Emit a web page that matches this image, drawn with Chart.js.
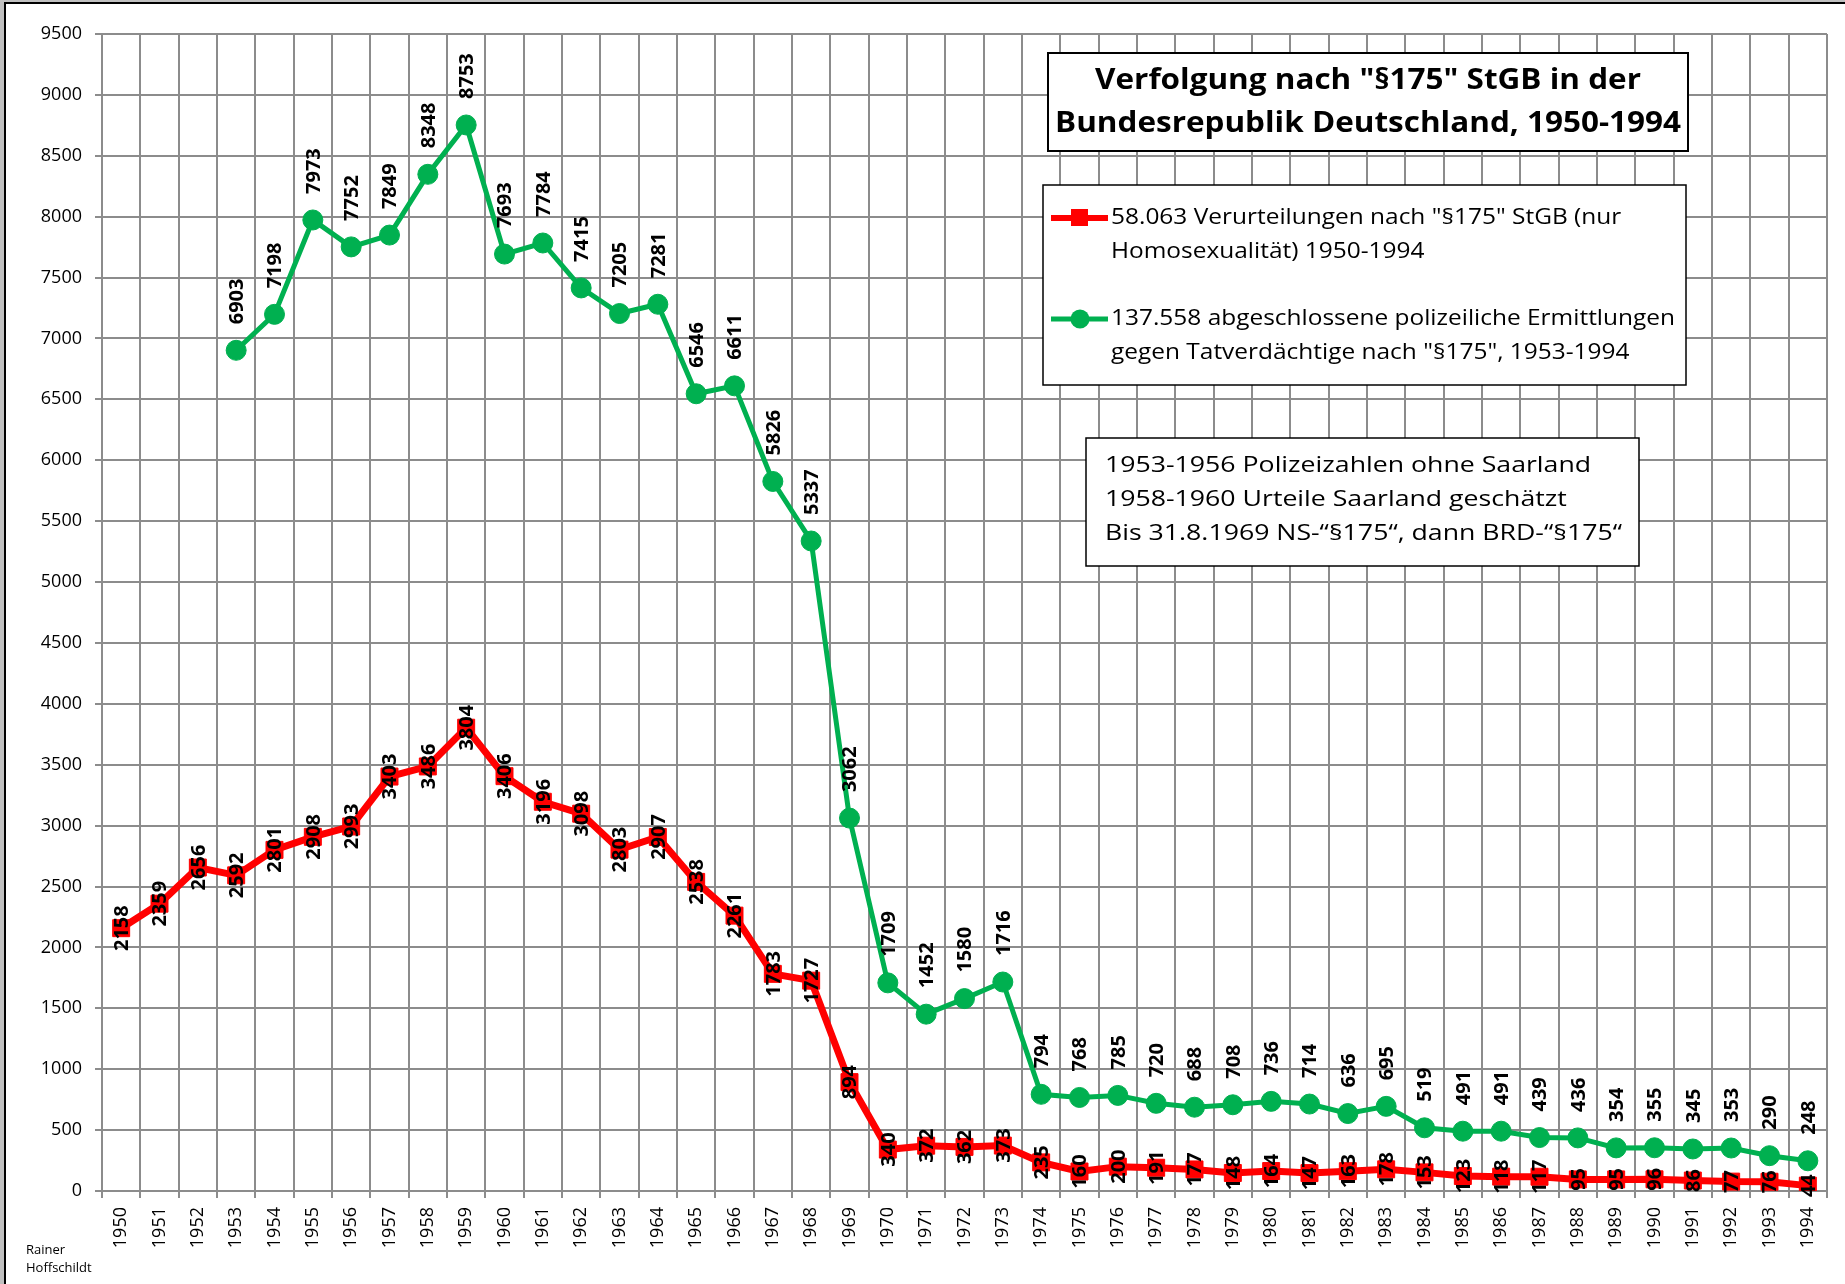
<!DOCTYPE html>
<html><head><meta charset="utf-8">
<script src="https://cdn.jsdelivr.net/npm/chart.js@4.4.0/dist/chart.umd.min.js"></script>
<style>html,body{margin:0;padding:0;background:#fff;}#wrap{position:relative;width:1845px;height:1284px;}</style>
</head><body><div id="wrap"><canvas id="c"></canvas></div>
<script>
const years = ['1950','1951','1952','1953','1954','1955','1956','1957','1958','1959',
  '1960','1961','1962','1963','1964','1965','1966','1967','1968','1969',
  '1970','1971','1972','1973','1974','1975','1976','1977','1978','1979',
  '1980','1981','1982','1983','1984','1985','1986','1987','1988','1989',
  '1990','1991','1992','1993','1994'];
const convictions = [2158,2359,2656,2592,2801,2908,2993,3403,3486,3804,
  3406,3196,3098,2803,2907,2538,2261,1783,1727,894,
  340,372,362,373,235,160,200,191,177,148,
  164,147,163,178,153,123,118,117,95,95,
  96,86,77,76,44];
const investigations = [null,null,null,6903,7198,7973,7752,7849,8348,8753,
  7693,7784,7415,7205,7281,6546,6611,5826,5337,3062,
  1709,1452,1580,1716,794,768,785,720,688,708,
  736,714,636,695,519,491,491,439,436,354,
  355,345,353,290,248];
const yMin = 0, yMax = 9500, yStep = 500;
const seriesNames = ['58.063 Verurteilungen nach "§175" StGB (nur Homosexualität) 1950-1994',
  '137.558 abgeschlossene polizeiliche Ermittlungen gegen Tatverdächtige nach "§175", 1953-1994'];
const titleLines = ['Verfolgung nach "§175" StGB in der', 'Bundesrepublik Deutschland, 1950-1994'];
const legendRedLines = ['58.063 Verurteilungen nach "§175" StGB (nur', 'Homosexualität) 1950-1994'];
const legendGreenLines = ['137.558 abgeschlossene polizeiliche Ermittlungen', 'gegen Tatverdächtige nach "§175", 1953-1994'];
const noteLines = ['1953-1956 Polizeizahlen ohne Saarland', '1958-1960 Urteile Saarland geschätzt', 'Bis 31.8.1969 NS-“§175“, dann BRD-“§175“'];
const authorLines = ['Rainer', 'Hoffschildt'];

const RED = '#ff0000', GREEN = '#00b050', GRID = '#8c8c8c';
const SANS = '"Open Sans", "Noto Sans", sans-serif';

function scaleFor(ctx, font, text, target) {
  ctx.font = font; return target / ctx.measureText(text).width;
}
function drawLine(ctx, text, x, y, font, sx, align) {
  ctx.save(); ctx.font = font; ctx.translate(x, y); ctx.scale(sx, 1);
  ctx.textAlign = align; ctx.textBaseline = 'middle'; ctx.fillStyle = '#000';
  ctx.fillText(text, 0, 0); ctx.restore();
}
function box(ctx, x, y, w, h, lw) {
  ctx.save(); ctx.fillStyle = '#fff'; ctx.fillRect(x, y, w, h);
  ctx.strokeStyle = '#000'; ctx.lineWidth = lw; ctx.strokeRect(x, y, w, h); ctx.restore();
}

const bgPlugin = {
  id: 'bg',
  beforeDraw(chart) { const c = chart.ctx; c.save(); c.fillStyle = '#fff'; c.fillRect(0, 0, chart.width, chart.height); c.restore(); }
};

const labelPlugin = {
  id: 'pointLabels',
  afterDatasetsDraw(chart) {
    const ctx = chart.ctx;
    chart.data.datasets.forEach((ds, i) => {
      const meta = chart.getDatasetMeta(i);
      meta.data.forEach((pt, j) => {
        const v = ds.data[j];
        if (v === null || v === undefined) return;
        ctx.save();
        ctx.translate(pt.x, pt.y);
        ctx.rotate(-Math.PI / 2);
        ctx.font = 'bold 20px ' + SANS;
        ctx.fillStyle = '#000';
        ctx.textBaseline = 'middle';
        if (i === 0) { ctx.textAlign = 'center'; ctx.fillText(String(v), 0, 1); }
        else { ctx.textAlign = 'left'; ctx.fillText(String(v), 26, 1); }
        ctx.restore();
      });
    });
  }
};

const overlayPlugin = {
  id: 'overlay',
  afterDraw(chart) {
    const ctx = chart.ctx;
    box(ctx, 1048, 53, 640, 98, 2);
    const tf = 'bold 29px ' + SANS;
    const tsx = scaleFor(ctx, tf, titleLines[1], 626);
    drawLine(ctx, titleLines[0], 1368, 81, tf, tsx, 'center');
    drawLine(ctx, titleLines[1], 1368, 124, tf, tsx, 'center');
    box(ctx, 1043, 185, 643, 200, 1.5);
    const lf = '22px ' + SANS;
    const lsx = scaleFor(ctx, lf, legendGreenLines[0], 564);
    const ds = chart.data.datasets;
    ctx.save(); ctx.strokeStyle = ds[0].borderColor; ctx.lineWidth = 6;
    ctx.beginPath(); ctx.moveTo(1051, 218); ctx.lineTo(1108, 218); ctx.stroke();
    ctx.fillStyle = ds[0].pointBackgroundColor; ctx.fillRect(1071, 209, 17, 17);
    ctx.strokeStyle = ds[1].borderColor; ctx.lineWidth = 5;
    ctx.beginPath(); ctx.moveTo(1051, 319); ctx.lineTo(1108, 319); ctx.stroke();
    ctx.fillStyle = ds[1].pointBackgroundColor; ctx.beginPath(); ctx.arc(1080, 319, 9.5, 0, Math.PI * 2); ctx.fill();
    ctx.restore();
    drawLine(ctx, legendRedLines[0], 1111, 218, lf, lsx, 'left');
    drawLine(ctx, legendRedLines[1], 1111, 252, lf, lsx, 'left');
    drawLine(ctx, legendGreenLines[0], 1111, 319, lf, lsx, 'left');
    drawLine(ctx, legendGreenLines[1], 1111, 353, lf, lsx, 'left');
    box(ctx, 1086, 438, 553, 128, 1.5);
    const nsx = scaleFor(ctx, lf, noteLines[2], 517);
    drawLine(ctx, noteLines[0], 1105, 466, lf, nsx, 'left');
    drawLine(ctx, noteLines[1], 1105, 500, lf, nsx, 'left');
    drawLine(ctx, noteLines[2], 1105, 534, lf, nsx, 'left');
    const af = '13px ' + SANS;
    drawLine(ctx, authorLines[0], 26, 1250, af, 1, 'left');
    drawLine(ctx, authorLines[1], 26, 1268, af, 1, 'left');
    ctx.save();
    ctx.fillStyle = '#c0c0c0'; ctx.fillRect(0, 0, 4, chart.height); ctx.fillRect(0, 0, chart.width, 2);
    ctx.fillStyle = '#000'; ctx.fillRect(4, 2, 2, chart.height); ctx.fillRect(4, 2, chart.width, 2);
    ctx.restore();
  }
};

new Chart(document.getElementById('c'), {
  type: 'line',
  data: {
    labels: years,
    datasets: [
      { label: seriesNames[0], data: convictions, borderColor: RED, backgroundColor: RED,
        borderWidth: 7, tension: 0, pointStyle: 'rect', pointRadius: 12,
        pointBackgroundColor: RED, pointBorderColor: RED, pointBorderWidth: 1, order: 0 },
      { label: seriesNames[1], data: investigations, borderColor: GREEN, backgroundColor: GREEN,
        borderWidth: 5, tension: 0, pointStyle: 'circle', pointRadius: 10,
        pointBackgroundColor: GREEN, pointBorderColor: GREEN, pointBorderWidth: 1, order: 1 }
    ]
  },
  options: {
    responsive: true, maintainAspectRatio: false, animation: false, events: [],
    devicePixelRatio: 1,
    layout: { padding: { left: 0, top: 34, right: 18, bottom: 0 } },
    plugins: { legend: { display: false }, title: { display: false }, tooltip: { enabled: false } },
    scales: {
      x: {
        offset: true,
        grid: { offset: true, color: GRID, lineWidth: 2, tickLength: 7, drawTicks: true },
        border: { color: GRID, width: 2 },
        ticks: { autoSkip: false, minRotation: 90, maxRotation: 90, color: '#000',
          font: { family: SANS, size: 18 }, padding: 9 },
        afterFit(s) { s.height = 93; }
      },
      y: {
        min: yMin, max: yMax,
        grid: { color: GRID, lineWidth: 2, tickLength: 7 },
        border: { color: GRID, width: 2 },
        ticks: { stepSize: yStep, color: '#000', font: { family: SANS, size: 18 }, padding: 13,
          callback: (v) => String(v) },
        afterFit(s) { s.width = 102; }
      }
    }
  },
  plugins: [bgPlugin, labelPlugin, overlayPlugin]
});
</script></body></html>
